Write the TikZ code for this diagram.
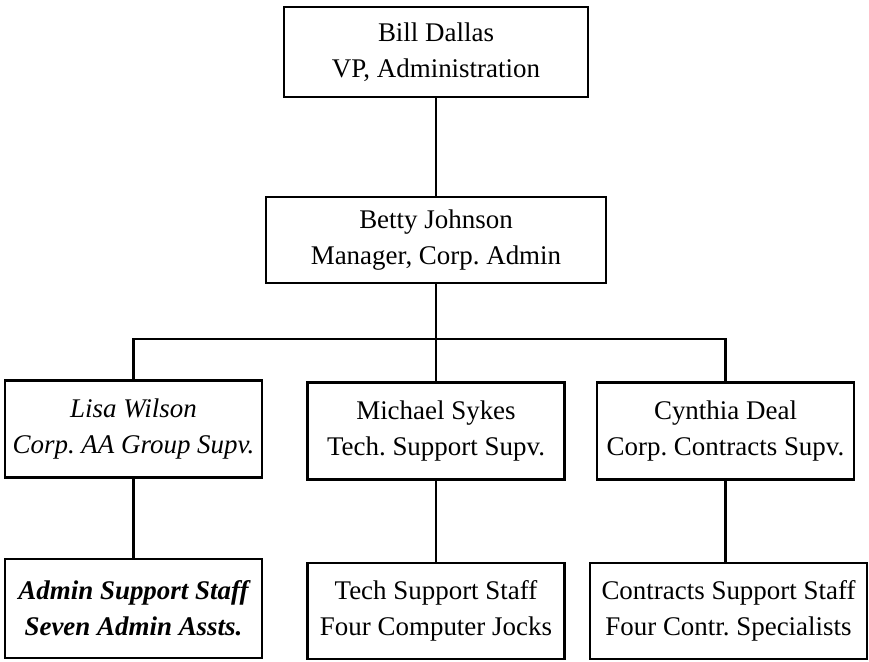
\documentclass[tikz,border=0pt]{standalone}
\usepackage{fontspec}
\setmainfont{Liberation Serif}
\frenchspacing
\begin{document}
\begin{tikzpicture}[x=0.03cm,y=-0.03cm,
  box/.style={draw,line width=2.4pt,align=center,inner sep=0pt,
    minimum width=257*0.03cm,minimum height=97*0.03cm,
    font=\fontsize{23}{30.5}\selectfont},
  link/.style={line width=2.4pt}]
\useasboundingbox (0,0) rectangle (869,661);
\node[box,minimum width=304*0.03cm,minimum height=90*0.03cm] (vp) at (436,52) {Bill Dallas\\VP, Administration};
\node[box,minimum width=340*0.03cm,minimum height=86*0.03cm] (mgr) at (436,240) {Betty Johnson\\Manager, Corp. Admin};
\node[box] (lisa) at (133.5,429) {\itshape Lisa Wilson\\\itshape Corp. AA Group Supv.};
\node[box] (mike) at (436,431) {Michael Sykes\\Tech. Support Supv.};
\node[box] (cyn) at (725.5,431) {Cynthia Deal\\Corp. Contracts Supv.};
\node[box,minimum height=99*0.03cm] (admin) at (133.5,608.5) {\bfseries\itshape Admin Support Staff\\\bfseries\itshape Seven Admin Assts.};
\node[box,minimum height=96*0.03cm] (tech) at (436,611) {Tech Support Staff\\Four Computer Jocks};
\node[box,minimum width=277*0.03cm,minimum height=96*0.03cm] (contr) at (728.5,611) {Contracts Support Staff\\Four Contr. Specialists};
\coordinate (bar) at (436,339);
\draw[link] (vp) -- (mgr);
\draw[link] (mgr) -- (bar);
\draw[link] (lisa.north) |- (bar) -| (cyn.north);
\draw[link] (bar) -- (mike);
\draw[link] (lisa) -- (admin);
\draw[link] (mike) -- (tech);
\draw[link] (cyn.south) -- (cyn.south |- contr.north);
\end{tikzpicture}
\end{document}
